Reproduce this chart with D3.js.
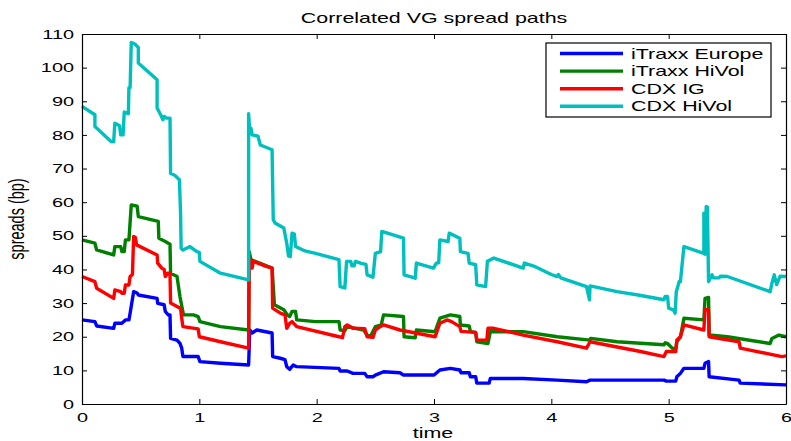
<!DOCTYPE html>
<html>
<head>
<meta charset="utf-8">
<script src="https://cdn.jsdelivr.net/npm/d3@7"></script>
<style>
  body { margin: 0; background: #fff; }
  svg text { font-family: "Liberation Sans", Arial, sans-serif; fill: #000; }
</style>
</head>
<body>
<svg id="chart" width="791" height="441"></svg>
<script>
// data: [time, spread in bp], repeated time = jump
const itraxxEurope = [[0,25],[0.11,24.5],[0.125,23.2],[0.27,22.5],[0.28,24],[0.34,24],[0.37,25],[0.40,25],[0.41,27],[0.44,33.4],[0.47,33],[0.48,32.4],[0.64,31.4],[0.645,29.9],[0.70,29.5],[0.71,27.5],[0.735,26.5],[0.75,26.5],[0.755,19.5],[0.81,19],[0.835,18],[0.85,16.6],[0.86,14.1],[0.99,14.1],[1.005,12.6],[1.18,12.1],[1.42,11.6],[1.43,22],[1.45,21.1],[1.49,22],[1.62,21.1],[1.625,14.1],[1.69,13.6],[1.73,13.2],[1.745,11.1],[1.77,10.3],[1.80,11.6],[1.83,11.1],[2.19,10.6],[2.20,9.8],[2.26,9.8],[2.31,9.1],[2.41,9.1],[2.43,8.1],[2.48,8.1],[2.50,8.6],[2.57,9.6],[2.71,9.3],[2.74,8.6],[3.0,8.6],[3.05,10.1],[3.14,10.6],[3.22,10.1],[3.23,9.3],[3.30,9.3],[3.31,8.1],[3.355,8.1],[3.365,6.2],[3.47,6.2],[3.48,7.6],[3.76,7.6],[4.05,7.1],[4.30,6.6],[4.33,7.1],[4.96,7.1],[4.98,6.8],[5.06,6.8],[5.07,8.1],[5.10,9.1],[5.13,10.6],[5.30,10.6],[5.31,12.1],[5.34,12.6],[5.345,8.1],[5.60,7.1],[5.61,6.2],[6,5.7]];

const itraxxHiVol = [[0,48.8],[0.11,47.8],[0.125,45.8],[0.27,44.3],[0.28,46.8],[0.33,46.8],[0.34,45.3],[0.36,45.3],[0.37,48.8],[0.40,48.8],[0.42,59.2],[0.47,58.8],[0.48,55.7],[0.65,54.3],[0.655,49.3],[0.71,48.3],[0.75,47.5],[0.755,38.9],[0.81,37.9],[0.835,31.9],[0.865,26.5],[0.95,26.5],[0.99,26],[1.005,24.5],[1.18,23],[1.42,22],[1.425,45.3],[1.44,42.9],[1.62,40.4],[1.64,29.5],[1.72,28],[1.75,26.5],[1.77,26],[1.79,27.5],[1.82,27.5],[1.83,25],[1.99,24.5],[2.19,24.5],[2.20,22],[2.24,21.8],[2.26,23],[2.40,22],[2.43,20.5],[2.46,20.2],[2.50,23],[2.55,23.5],[2.57,26.5],[2.74,26],[2.745,20],[2.84,19.7],[2.85,22],[3.01,21.5],[3.05,25.5],[3.14,26.5],[3.22,26],[3.225,23.5],[3.30,23.2],[3.31,21.5],[3.355,21.3],[3.365,18.5],[3.46,18],[3.48,21.5],[3.76,21.5],[4.05,20],[4.33,19],[4.335,19.5],[4.56,18.5],[4.96,17.6],[4.97,18.2],[4.99,18],[5.03,16.6],[5.06,16.3],[5.07,18.5],[5.10,19.9],[5.13,25.5],[5.30,25],[5.31,31.4],[5.34,31.7],[5.345,20.5],[5.50,20],[5.865,18],[5.88,19.5],[5.94,20.5],[6,20]];

const cdxIG = [[0,37.9],[0.11,36.4],[0.125,34.4],[0.27,31.4],[0.28,33.9],[0.33,33.4],[0.34,32.9],[0.36,32.9],[0.37,35.4],[0.40,35.4],[0.41,37.9],[0.43,38.5],[0.44,49.8],[0.455,49.5],[0.465,47.3],[0.64,44.3],[0.645,41.9],[0.68,40.4],[0.70,40],[0.71,37.9],[0.73,38.9],[0.75,38.9],[0.755,30],[0.81,29],[0.84,28.4],[0.85,25.5],[0.86,23],[0.96,22.5],[0.99,22.3],[1.0,20],[1.18,18.5],[1.42,16.6],[1.425,43],[1.435,41.9],[1.45,40.4],[1.46,42.4],[1.57,40.9],[1.62,40.4],[1.625,28.5],[1.69,27],[1.73,26.5],[1.745,22.5],[1.77,24],[1.79,24.5],[1.83,23],[2.19,20],[2.22,19.7],[2.24,23],[2.26,23.5],[2.31,22.5],[2.41,22.4],[2.43,20],[2.48,19.8],[2.50,22],[2.54,23],[2.57,23.5],[2.71,22],[3.01,20],[3.05,24],[3.11,25],[3.15,24.5],[3.22,23],[3.23,21.6],[3.355,21.3],[3.365,19],[3.45,19],[3.46,22.5],[3.51,22.5],[3.76,20.5],[4.05,18.5],[4.30,16.6],[4.33,18.5],[4.76,15.6],[4.96,14.1],[4.98,15.6],[5.06,15.6],[5.07,19],[5.10,20],[5.13,23.5],[5.30,22],[5.31,28],[5.34,28],[5.345,20],[5.60,18.5],[5.61,16.6],[5.965,14.1],[6,14.3]];

const cdxHiVol = [[0,88.5],[0.11,86],[0.11,82.5],[0.25,78],[0.27,78],[0.28,83.5],[0.32,82.7],[0.33,80],[0.35,80],[0.36,86.8],[0.395,86.3],[0.40,94],[0.41,94],[0.42,107.5],[0.45,107],[0.48,106],[0.48,101.4],[0.64,96.4],[0.64,88],[0.67,86],[0.69,84.5],[0.70,85.5],[0.72,85],[0.75,85],[0.755,68.6],[0.79,68],[0.83,66.7],[0.84,56.8],[0.845,46.3],[0.86,45.8],[0.92,46.8],[0.97,45.5],[1.0,45],[1.005,42.4],[1.18,38.9],[1.42,36.9],[1.42,86.3],[1.43,80.5],[1.44,82],[1.45,80],[1.50,79.6],[1.52,77],[1.62,75.6],[1.63,54.8],[1.645,53.8],[1.72,52.3],[1.745,47.8],[1.76,44],[1.775,43.8],[1.79,50.8],[1.81,50.5],[1.82,46.8],[1.9,45.5],[1.99,44.8],[2.19,42.9],[2.20,34.9],[2.24,34.5],[2.255,42.4],[2.29,42.4],[2.30,41.1],[2.32,41.1],[2.33,42.4],[2.38,41.8],[2.42,41.5],[2.43,38.4],[2.48,37.7],[2.50,44.8],[2.545,45.3],[2.555,51.3],[2.74,49.3],[2.745,38.4],[2.84,37.4],[2.85,41.9],[2.995,40.4],[3.02,41.9],[3.04,42],[3.05,48.8],[3.12,48.3],[3.13,50.8],[3.22,49.3],[3.225,45.3],[3.29,44.8],[3.30,41.9],[3.355,41.4],[3.365,35.4],[3.44,34.9],[3.455,42.4],[3.51,43.4],[3.76,40.4],[3.77,41.9],[3.85,41],[4.0,38.5],[4.05,37.9],[4.06,38.5],[4.08,37.5],[4.30,34.9],[4.325,31.0],[4.33,35.1],[4.56,33.4],[4.74,32.4],[4.96,31],[4.97,32],[4.99,32],[5.0,28.5],[5.04,28],[5.055,27],[5.065,33.4],[5.09,36.4],[5.10,36.4],[5.13,46.8],[5.30,44.8],[5.30,56.7],[5.31,44.5],[5.32,58.7],[5.33,58.5],[5.34,36.4],[5.37,38.4],[5.38,37.5],[5.43,37.5],[5.44,38],[5.5,37.9],[5.865,33.4],[5.88,35.9],[5.90,38.4],[5.92,35.5],[5.95,38],[6,37.9]];

const seriesNames = ["iTraxx Europe", "iTraxx HiVol", "CDX IG", "CDX HiVol"];
const seriesColors = ["#0000ff", "#008000", "#ff0000", "#00bfbf"];
const xTicks = [0, 1, 2, 3, 4, 5, 6];
const yTicks = [0, 10, 20, 30, 40, 50, 60, 70, 80, 90, 100, 110];

const allSeries = [itraxxEurope, itraxxHiVol, cdxIG, cdxHiVol];

const margin = { left: 82, right: 5, top: 34, bottom: 37 };
const W = 791, H = 441;
const SX = 1.53; // the figure text looks stretched sideways
const svg = d3.select("#chart");

const x = d3.scaleLinear().domain([0, 6]).range([margin.left, W - margin.right]);
const y = d3.scaleLinear().domain([0, 110]).range([H - margin.bottom, margin.top]);

const line = d3.line().x(d => x(d[0])).y(d => y(d[1]));

// lines
svg.append("g").selectAll("path")
  .data(allSeries)
  .join("path")
  .attr("d", line)
  .attr("fill", "none")
  .attr("stroke", (d, i) => seriesColors[i])
  .attr("stroke-width", 3.4)
  .attr("stroke-linejoin", "round");

// axes, matlab style: ticks inside, box on all sides
const fmt = d3.format("d");
const axBottom = svg.append("g").attr("transform", `translate(0,${y(0)})`)
  .call(d3.axisBottom(x).tickValues(xTicks).tickFormat(fmt).tickSizeInner(-5).tickSizeOuter(0).tickPadding(8.5));
const axTop = svg.append("g").attr("transform", `translate(0,${y(110)})`)
  .call(d3.axisTop(x).tickValues(xTicks).tickSizeInner(-5).tickSizeOuter(0).tickFormat(""));
const axLeft = svg.append("g").attr("transform", `translate(${x(0)},0)`)
  .call(d3.axisLeft(y).tickValues(yTicks).tickFormat(fmt).tickSizeInner(-5).tickSizeOuter(0));
const axRight = svg.append("g").attr("transform", `translate(${x(6)},0)`)
  .call(d3.axisRight(y).tickValues(yTicks).tickSizeInner(-5).tickSizeOuter(0).tickFormat(""));

[axBottom, axTop, axLeft, axRight].forEach(g => {
  g.select(".domain").attr("stroke", "#000").attr("stroke-width", 1.2);
  g.selectAll(".tick line").attr("stroke", "#000");
  g.selectAll(".tick text").style("font-size", "13px").style("font-family", "Liberation Sans, Arial, sans-serif");
});
axBottom.selectAll(".tick text").attr("transform", `scale(${SX},1)`);
axLeft.selectAll(".tick text").attr("x", -8 / SX).attr("transform", `scale(${SX},1)`);

// title and labels
const cx = (x(0) + x(6)) / 2;
svg.append("text").attr("transform", `translate(${cx},23) scale(${SX},1)`)
  .attr("text-anchor", "middle").style("font-size", "14px").text("Correlated VG spread paths");
svg.append("text").attr("transform", `translate(${cx - 1},438) scale(${SX},1)`)
  .attr("text-anchor", "middle").style("font-size", "14px").text("time");
svg.append("text").attr("transform", `translate(24,${(y(0) + y(110)) / 2}) scale(${SX},1) rotate(-90)`)
  .attr("text-anchor", "middle").style("font-size", "14.5px").text("spreads (bp)");

// legend
const lg = svg.append("g").attr("transform", "translate(546,43)");
lg.append("rect").attr("width", 225).attr("height", 74)
  .attr("fill", "#fff").attr("stroke", "#000").attr("stroke-width", 1.2);
seriesNames.forEach((name, i) => {
  const ly = 10.5 + i * 17.6;
  lg.append("line").attr("x1", 14).attr("x2", 77).attr("y1", ly).attr("y2", ly)
    .attr("stroke", seriesColors[i]).attr("stroke-width", 3.4);
  lg.append("text").attr("transform", `translate(85,${ly + 5}) scale(${SX},1)`)
    .style("font-size", "14px").text(name);
});
</script>
</body>
</html>
